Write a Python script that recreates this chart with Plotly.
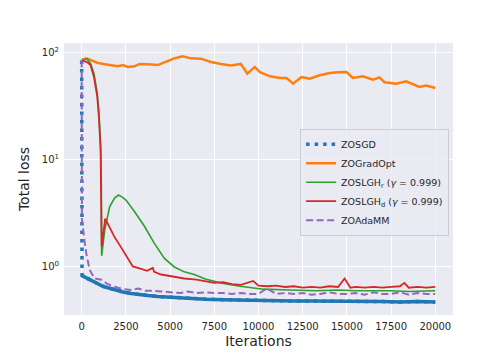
import plotly.graph_objects as go

# ---- data ----
sgd_iter = [0, 20, 200, 450, 700, 920, 1200, 1480, 1750, 2045, 2400, 2800, 3250, 3740, 4300, 5000,
            5600, 6370, 7000, 8000, 9000, 10000, 11000, 12000, 13000, 14000, 15000, 16000, 17000,
            18000, 19000, 20000]
sgd_loss = [85, 0.83, 0.80, 0.76, 0.72, 0.69, 0.66, 0.64, 0.62, 0.60, 0.58, 0.565, 0.55, 0.54, 0.53, 0.52,
            0.515, 0.51, 0.50, 0.495, 0.49, 0.49, 0.485, 0.48, 0.48, 0.48, 0.475, 0.48, 0.475,
            0.47, 0.475, 0.47]

gradopt_iter = [0, 260, 500, 920, 1480, 2045, 2330, 2610, 2990, 3270, 3740, 4300, 4680, 5240, 5710,
                6180, 6740, 7310, 7870, 8430, 9000, 9370, 9790, 10085, 10650, 11210, 11590, 11960,
                12430, 12900, 13465, 14030, 14500, 14970, 15340, 15900, 16470, 16845, 17130, 17790,
                18350, 18730, 19100, 19480, 20000]
gradopt_loss = [86, 89, 86, 80.6, 77.7, 75, 77, 74, 75, 79, 78.5, 77, 81.8, 89, 93,
                89, 88.5, 82.4, 79, 76.2, 79, 64, 74, 66, 60.5, 58.4, 58.4, 51.6,
                59.6, 57.5, 61.9, 65, 66, 66.5, 58.4, 60.5, 56.3, 59, 53.2, 51.6,
                54.4, 51.6, 48.2, 49.5, 47]

lghr_iter = [0, 150, 300, 500, 700, 880, 975, 1070, 1110, 1130, 1300, 1580, 1860, 2085, 2300, 2515,
             2985, 3550, 4110, 4680, 5240, 5800, 6370, 6990, 7830, 8960, 10270, 11775, 13280,
             14500, 15500, 16500, 17500, 18500, 19500, 20000]
lghr_loss = [85, 87, 88, 80, 64, 42, 28, 14, 6, 1.27, 2.2, 3.65, 4.4, 4.7, 4.5, 4.2,
             3.3, 2.4, 1.66, 1.2, 1.0, 0.9, 0.85, 0.77, 0.71, 0.66, 0.62, 0.61, 0.60,
             0.61, 0.60, 0.60, 0.60, 0.59, 0.60, 0.60]

lghd_iter = [0, 150, 300, 500, 690, 880, 975, 1070, 1110, 1130, 1330, 1600, 1860, 2150, 2420, 2650,
             2890, 3360, 3700, 4020, 4100, 4490, 5240, 5800, 6500, 7000, 7500, 8000, 8500, 9000,
             9700, 10000, 10500, 11000, 11500, 12000, 12500, 13000, 13500, 14000, 14500, 14870,
             15200, 15500, 16000, 16500, 17000, 17500, 18000, 18250, 18500, 19000, 19500, 20000]
lghd_loss = [85, 84, 82, 77, 60, 39, 25, 12.4, 5.3, 1.55, 2.83, 2.3, 1.9, 1.6, 1.34, 1.15,
             1.01, 0.96, 0.92, 0.98, 0.9, 0.85, 0.81, 0.78, 0.76, 0.74, 0.71, 0.72, 0.69, 0.68,
             0.74, 0.67, 0.66, 0.67, 0.65, 0.66, 0.64, 0.65, 0.64, 0.66, 0.65, 0.78,
             0.64, 0.65, 0.64, 0.65, 0.64, 0.65, 0.66, 0.71, 0.64, 0.65, 0.64, 0.65]

adamm_iter = [0, 15, 130, 260, 450, 730, 1110, 1480, 2045, 2400, 2800, 3200, 3600, 4000, 4500, 5000,
              5600, 6000, 6500, 7000, 7500, 8000, 8500, 9000, 9500, 10000, 10460, 11000, 11500,
              12000, 12500, 13000, 13500, 14000, 14500, 15000, 15500, 16000, 16500, 17000, 17500,
              18000, 18500, 19000, 19500, 20000]
adamm_loss = [85, 2.8, 1.9, 1.34, 0.94, 0.78, 0.76, 0.69, 0.64, 0.62, 0.61, 0.63, 0.60, 0.60, 0.59, 0.58,
              0.57, 0.59, 0.57, 0.58, 0.57, 0.57, 0.56, 0.57, 0.56, 0.56, 0.63, 0.56, 0.57,
              0.56, 0.57, 0.55, 0.56, 0.58, 0.56, 0.56, 0.57, 0.55, 0.58, 0.56, 0.56,
              0.58, 0.55, 0.57, 0.56, 0.56]

x_ticks = [0, 2500, 5000, 7500, 10000, 12500, 15000, 17500, 20000]
x_ticktext = ["0", "2500", "5000", "7500", "10000", "12500", "15000", "17500", "20000"]
y_ticks = [1, 10, 100]
y_ticktext = ["10<sup>0</sup>", "10<sup>1</sup>", "10<sup>2</sup>"]

fig = go.Figure()

# ZOSGD: dotted trace for legend / vertical drop, solid overlay for the noisy tail
fig.add_trace(go.Scatter(x=sgd_iter, y=sgd_loss, mode="lines", name="ZOSGD",
                         line=dict(color="#1f77b4", width=3.5, dash="3.5px,5px")))
fig.add_trace(go.Scatter(x=sgd_iter[1:], y=sgd_loss[1:], mode="lines", showlegend=False,
                         line=dict(color="#1f77b4", width=3.5)))
fig.add_trace(go.Scatter(x=gradopt_iter, y=gradopt_loss, mode="lines", name="ZOGradOpt",
                         line=dict(color="#ff7f0e", width=2.5)))
fig.add_trace(go.Scatter(x=lghr_iter, y=lghr_loss, mode="lines",
                         name="ZOSLGH<sub>r</sub> (<i>γ</i> = 0.999)",
                         line=dict(color="#2ca02c", width=1.6)))
fig.add_trace(go.Scatter(x=lghd_iter, y=lghd_loss, mode="lines",
                         name="ZOSLGH<sub>d</sub> (<i>γ</i> = 0.999)",
                         line=dict(color="#d62728", width=1.8)))
fig.add_trace(go.Scatter(x=adamm_iter, y=adamm_loss, mode="lines", name="ZOAdaMM",
                         line=dict(color="#9467bd", width=2, dash="7px,3.5px")))

fig.update_layout(
    width=504, height=360,
    margin=dict(l=64, r=51, t=43, b=45),
    paper_bgcolor="white",
    plot_bgcolor="#EAEAF2",
    font=dict(family="DejaVu Sans", color="#262626", size=10),
    legend=dict(x=0.99, xanchor="right", y=0.685, yanchor="top",
                bgcolor="rgba(234,234,242,0.8)", bordercolor="#cccccc", borderwidth=1,
                font=dict(size=9.5), tracegroupgap=0),
    showlegend=True,
)
fig.update_xaxes(range=[-1000, 21000], tickvals=x_ticks, ticktext=x_ticktext, showgrid=True,
                 gridcolor="white", gridwidth=1, zeroline=False, showline=False, ticks="",
                 automargin=False, ticklabelstandoff=4,
                 tickfont=dict(size=10), title=dict(text="Iterations", font=dict(size=14), standoff=5))
fig.update_yaxes(type="log", range=[-0.449, 2.093], tickvals=y_ticks, ticktext=y_ticktext,
                 showgrid=True, gridcolor="white", gridwidth=1, zeroline=False, showline=False,
                 ticks="", automargin=False, ticklabelstandoff=4,
                 tickfont=dict(size=10), title=dict(text="Total loss", font=dict(size=14),
                                                    standoff=8))

# drop the default 8px page margin so the 504x360 figure sits at the window origin
fig.write_html("out.html", config={"displayModeBar": False},
               post_script="document.body.style.margin = '0';")
